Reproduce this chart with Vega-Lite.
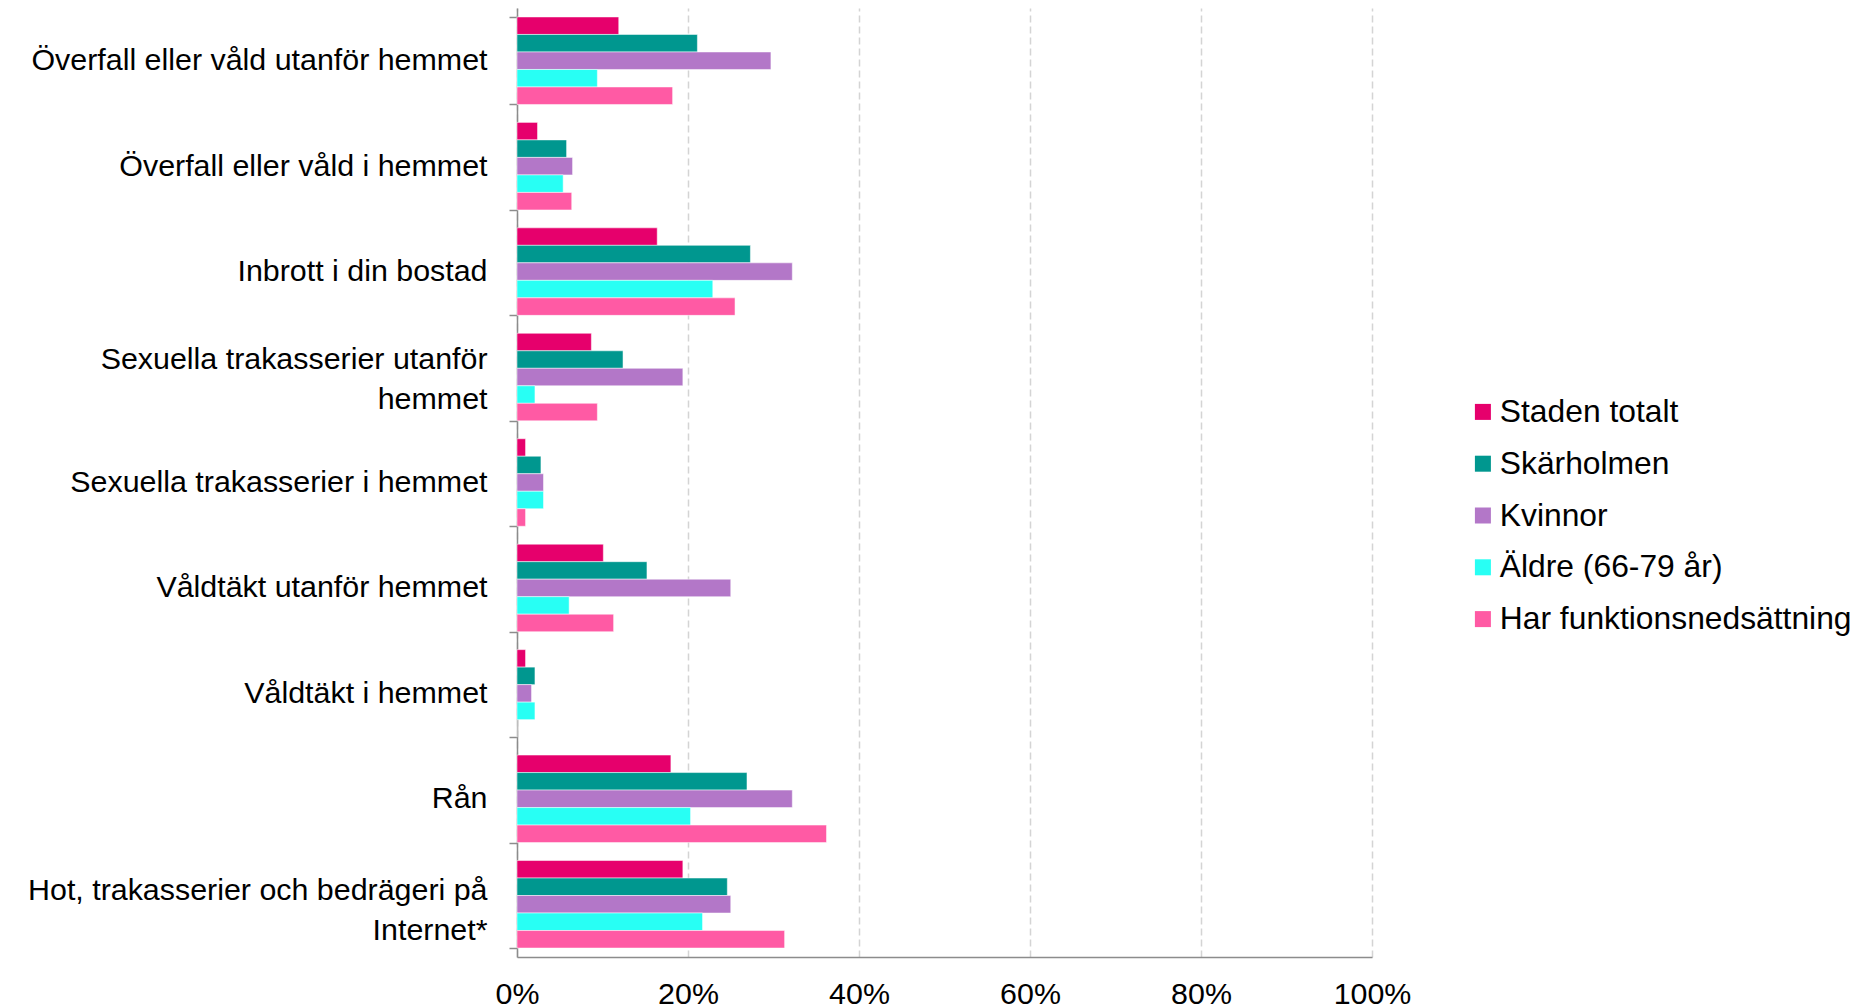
{
  "$schema": "https://vega.github.io/schema/vega-lite/v6.json",
  "autosize": {"type": "none"},
  "width": 855,
  "height": 949,
  "padding": {"left": 517, "top": 8, "right": 488, "bottom": 51},
  "background": "white",
  "config": {
    "font": "Liberation Sans",
    "view": {"stroke": null}
  },
  "data": {
    "values": [
      {"kategori": "Överfall eller våld utanför hemmet", "grupp": "Staden totalt", "varde": 0.119},
      {"kategori": "Överfall eller våld utanför hemmet", "grupp": "Skärholmen", "varde": 0.211},
      {"kategori": "Överfall eller våld utanför hemmet", "grupp": "Kvinnor", "varde": 0.297},
      {"kategori": "Överfall eller våld utanför hemmet", "grupp": "Äldre (66-79 år)", "varde": 0.094},
      {"kategori": "Överfall eller våld utanför hemmet", "grupp": "Har funktionsnedsättning", "varde": 0.182},
      {"kategori": "Överfall eller våld i hemmet", "grupp": "Staden totalt", "varde": 0.024},
      {"kategori": "Överfall eller våld i hemmet", "grupp": "Skärholmen", "varde": 0.058},
      {"kategori": "Överfall eller våld i hemmet", "grupp": "Kvinnor", "varde": 0.065},
      {"kategori": "Överfall eller våld i hemmet", "grupp": "Äldre (66-79 år)", "varde": 0.054},
      {"kategori": "Överfall eller våld i hemmet", "grupp": "Har funktionsnedsättning", "varde": 0.064},
      {"kategori": "Inbrott i din bostad", "grupp": "Staden totalt", "varde": 0.164},
      {"kategori": "Inbrott i din bostad", "grupp": "Skärholmen", "varde": 0.273},
      {"kategori": "Inbrott i din bostad", "grupp": "Kvinnor", "varde": 0.322},
      {"kategori": "Inbrott i din bostad", "grupp": "Äldre (66-79 år)", "varde": 0.229},
      {"kategori": "Inbrott i din bostad", "grupp": "Har funktionsnedsättning", "varde": 0.255},
      {"kategori": "Sexuella trakasserier utanför hemmet", "grupp": "Staden totalt", "varde": 0.087},
      {"kategori": "Sexuella trakasserier utanför hemmet", "grupp": "Skärholmen", "varde": 0.124},
      {"kategori": "Sexuella trakasserier utanför hemmet", "grupp": "Kvinnor", "varde": 0.194},
      {"kategori": "Sexuella trakasserier utanför hemmet", "grupp": "Äldre (66-79 år)", "varde": 0.021},
      {"kategori": "Sexuella trakasserier utanför hemmet", "grupp": "Har funktionsnedsättning", "varde": 0.094},
      {"kategori": "Sexuella trakasserier i hemmet", "grupp": "Staden totalt", "varde": 0.010},
      {"kategori": "Sexuella trakasserier i hemmet", "grupp": "Skärholmen", "varde": 0.028},
      {"kategori": "Sexuella trakasserier i hemmet", "grupp": "Kvinnor", "varde": 0.031},
      {"kategori": "Sexuella trakasserier i hemmet", "grupp": "Äldre (66-79 år)", "varde": 0.031},
      {"kategori": "Sexuella trakasserier i hemmet", "grupp": "Har funktionsnedsättning", "varde": 0.010},
      {"kategori": "Våldtäkt utanför hemmet", "grupp": "Staden totalt", "varde": 0.101},
      {"kategori": "Våldtäkt utanför hemmet", "grupp": "Skärholmen", "varde": 0.152},
      {"kategori": "Våldtäkt utanför hemmet", "grupp": "Kvinnor", "varde": 0.250},
      {"kategori": "Våldtäkt utanför hemmet", "grupp": "Äldre (66-79 år)", "varde": 0.061},
      {"kategori": "Våldtäkt utanför hemmet", "grupp": "Har funktionsnedsättning", "varde": 0.113},
      {"kategori": "Våldtäkt i hemmet", "grupp": "Staden totalt", "varde": 0.010},
      {"kategori": "Våldtäkt i hemmet", "grupp": "Skärholmen", "varde": 0.021},
      {"kategori": "Våldtäkt i hemmet", "grupp": "Kvinnor", "varde": 0.017},
      {"kategori": "Våldtäkt i hemmet", "grupp": "Äldre (66-79 år)", "varde": 0.021},
      {"kategori": "Våldtäkt i hemmet", "grupp": "Har funktionsnedsättning", "varde": 0.0},
      {"kategori": "Rån", "grupp": "Staden totalt", "varde": 0.180},
      {"kategori": "Rån", "grupp": "Skärholmen", "varde": 0.269},
      {"kategori": "Rån", "grupp": "Kvinnor", "varde": 0.322},
      {"kategori": "Rån", "grupp": "Äldre (66-79 år)", "varde": 0.203},
      {"kategori": "Rån", "grupp": "Har funktionsnedsättning", "varde": 0.362},
      {"kategori": "Hot, trakasserier och bedrägeri på Internet*", "grupp": "Staden totalt", "varde": 0.194},
      {"kategori": "Hot, trakasserier och bedrägeri på Internet*", "grupp": "Skärholmen", "varde": 0.246},
      {"kategori": "Hot, trakasserier och bedrägeri på Internet*", "grupp": "Kvinnor", "varde": 0.250},
      {"kategori": "Hot, trakasserier och bedrägeri på Internet*", "grupp": "Äldre (66-79 år)", "varde": 0.217},
      {"kategori": "Hot, trakasserier och bedrägeri på Internet*", "grupp": "Har funktionsnedsättning", "varde": 0.313}
    ]
  },
  "mark": {"type": "bar", "stroke": "white", "strokeWidth": 1, "strokeOpacity": 0.5},
  "encoding": {
    "y": {
      "field": "kategori",
      "type": "nominal",
      "sort": null,
      "scale": {"paddingInner": 0.17, "paddingOuter": 0.085},
      "axis": {
        "title": null,
        "domain": true,
        "domainColor": "#8c8c8c",
        "domainWidth": 1.5,
        "ticks": true,
        "tickBand": "extent",
        "tickSize": 8,
        "tickColor": "#8c8c8c",
        "tickWidth": 1.5,
        "grid": false,
        "labelFont": "Liberation Sans",
        "labelFontSize": 30.4,
        "labelColor": "#000000",
        "labelPadding": 22,
        "labelLimit": 520,
        "labelLineHeight": 40,
        "labelOffset": {
          "condition": [
            {"test": "datum.value == 'Sexuella trakasserier utanför hemmet'", "value": -17.6},
            {"test": "datum.value == 'Hot, trakasserier och bedrägeri på Internet*'", "value": -14}
          ],
          "value": 0
        },
        "labelExpr": "datum.value == 'Sexuella trakasserier utanför hemmet' ? ['Sexuella trakasserier utanför', 'hemmet'] : datum.value == 'Hot, trakasserier och bedrägeri på Internet*' ? ['Hot, trakasserier och bedrägeri på', 'Internet*'] : datum.value"
      }
    },
    "yOffset": {
      "field": "grupp",
      "type": "nominal",
      "sort": ["Staden totalt", "Skärholmen", "Kvinnor", "Äldre (66-79 år)", "Har funktionsnedsättning"],
      "scale": {"paddingInner": 0, "paddingOuter": 0}
    },
    "x": {
      "field": "varde",
      "type": "quantitative",
      "scale": {"domain": [0, 1], "nice": false},
      "axis": {
        "title": null,
        "values": [0, 0.2, 0.4, 0.6, 0.8, 1.0],
        "format": ".0%",
        "domain": true,
        "domainColor": "#8c8c8c",
        "domainWidth": 1.5,
        "ticks": false,
        "grid": true,
        "gridColor": "#d4d4d4",
        "gridWidth": 1.5,
        "gridDash": [7, 4],
        "labelFont": "Liberation Sans",
        "labelFontSize": 30.4,
        "labelColor": "#000000",
        "labelPadding": 22,
        "labelFlush": false
      }
    },
    "color": {
      "field": "grupp",
      "type": "nominal",
      "sort": ["Staden totalt", "Skärholmen", "Kvinnor", "Äldre (66-79 år)", "Har funktionsnedsättning"],
      "scale": {
        "domain": ["Staden totalt", "Skärholmen", "Kvinnor", "Äldre (66-79 år)", "Har funktionsnedsättning"],
        "range": ["#E6006C", "#00978F", "#B377C8", "#28FFF4", "#FF5AA4"]
      },
      "legend": {
        "title": null,
        "orient": "none",
        "legendX": 950,
        "legendY": 388,
        "padding": 0,
        "symbolType": "square",
        "symbolSize": 256,
        "symbolStrokeWidth": 0,
        "labelFont": "Liberation Sans",
        "labelFontSize": 31.8,
        "labelColor": "#000000",
        "labelOffset": 1,
        "labelLimit": 500,
        "rowPadding": 18.8
      }
    }
  }
}
